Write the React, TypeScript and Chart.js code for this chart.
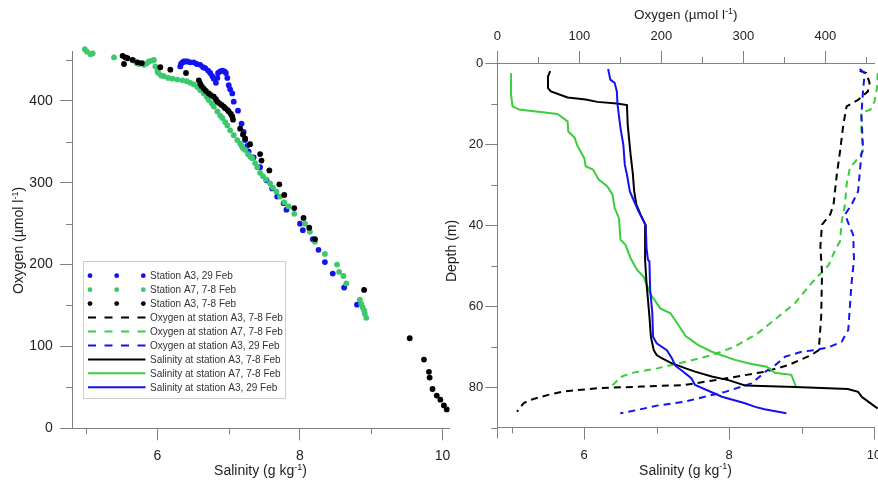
import React, { useEffect, useRef } from "react";
import { Chart, registerables } from "chart.js";

Chart.register(...registerables);

const FONT = '"Liberation Sans", Arial, Helvetica, sans-serif';
const AXIS = "#808080";
const TEXT = "#222222";
const BLUE = "#1212f2";
const GREEN_PT = "#3cc86c";
const GREEN_LN = "#3ccc3c";
const BLACK = "#000000";

// ---------- Left panel: oxygen vs salinity scatter ----------
const ptA3FebSal = [6.32, 6.33, 6.35, 6.37, 6.39, 6.42, 6.46, 6.51, 6.55, 6.6, 6.64, 6.67, 6.71, 6.74, 6.77, 6.79, 6.82, 6.84, 6.85, 6.88, 6.91, 6.94, 6.96, 6.98, 7.0, 7.02, 7.05, 7.07, 7.13, 7.18, 7.21, 7.23, 7.26, 7.28, 7.35, 7.44, 7.53, 7.61, 7.68, 7.77, 7.81, 8.0, 8.04, 8.18, 8.26, 8.35, 8.46, 8.62, 8.8];
const ptA3FebOxy = [442, 445, 447, 448, 448, 448, 447, 447, 445, 444, 441, 440, 437, 434, 430, 427, 422, 428, 434, 436, 437, 436, 434, 428, 419, 414, 409, 399, 388, 372, 362, 352, 345, 338, 331, 319, 303, 293, 283, 275, 267, 250, 242, 231, 218, 203, 189, 172, 151];

const ptA7Sal = [4.98, 5.01, 5.06, 5.09, 5.39, 5.67, 5.71, 5.74, 5.81, 5.85, 5.88, 5.92, 5.95, 5.97, 6.0, 6.01, 6.05, 6.09, 6.15, 6.21, 6.28, 6.35, 6.41, 6.46, 6.51, 6.56, 6.6, 6.65, 6.69, 6.72, 6.76, 6.79, 6.84, 6.88, 6.91, 6.95, 6.98, 7.02, 7.07, 7.12, 7.16, 7.18, 7.2, 7.23, 7.27, 7.3, 7.33, 7.37, 7.4, 7.44, 7.48, 7.52, 7.58, 7.62, 7.67, 7.72, 7.78, 7.84, 7.92, 8.07, 8.14, 8.21, 8.35, 8.52, 8.55, 8.61, 8.65, 8.84, 8.86, 8.88, 8.9, 8.91, 8.93];
const ptA7Oxy = [463, 460, 457, 458, 453, 449, 446, 445, 444, 446, 448, 449, 450, 442, 436, 434, 431, 430, 428, 427, 426, 425, 424, 422, 420, 417, 413, 409, 405, 401, 397, 393, 387, 382, 379, 374, 370, 364, 358, 352, 348, 345, 342, 340, 335, 332, 330, 324, 319, 312, 308, 304, 299, 294, 289, 283, 276, 271, 262, 250, 240, 228, 213, 200, 191, 186, 177, 157, 152, 148, 144, 140, 135];

const ptA3EarlySal = [5.51, 5.55, 5.53, 5.58, 5.65, 5.72, 5.78, 6.04, 6.18, 6.4, 6.58, 6.6, 6.62, 6.65, 6.68, 6.72, 6.75, 6.79, 6.82, 6.84, 6.87, 6.9, 6.93, 6.95, 6.98, 7.0, 7.03, 7.05, 7.06, 7.16, 7.2, 7.23, 7.3, 7.44, 7.46, 7.57, 7.71, 7.78, 7.92, 8.05, 8.13, 8.21, 8.9, 9.54, 9.74, 9.81, 9.82, 9.86, 9.92, 9.97, 10.02, 10.06];
const ptA3EarlyOxy = [455, 453, 445, 452, 450, 447, 446, 441, 438, 434, 425, 421, 418, 415, 412, 409, 407, 405, 402, 399, 397, 395, 393, 391, 389, 387, 384, 381, 377, 366, 359, 354, 347, 335, 327, 315, 298, 285, 269, 257, 245, 231, 169, 110, 84, 69, 62, 48, 40, 35, 28, 23];

// ---------- Right panel: profiles vs depth ----------
const salA3EarlyDepth = [2.0, 3.3, 6.2, 7.0, 8.5, 9.0, 9.6, 10.0, 10.4, 15.2, 22.6, 27.2, 31.7, 35.0, 37.5, 40.1, 48.6, 54.4, 62.6, 67.6, 70.9, 72.1, 72.9, 74.0, 75.4, 76.2, 77.4, 78.3, 79.1, 79.6, 80.0, 80.5, 81.2, 82.4, 83.6, 85.3];
const salA3EarlyValue = [5.53, 5.5, 5.5, 5.54, 5.77, 6.02, 6.18, 6.45, 6.59, 6.6, 6.64, 6.67, 6.69, 6.72, 6.78, 6.85, 6.84, 6.86, 6.9, 6.92, 6.96, 7.0, 7.07, 7.19, 7.4, 7.53, 7.76, 7.99, 8.13, 8.22, 8.91, 9.64, 9.78, 9.83, 9.92, 10.05];

const salA3FebDepth = [1.5, 4.1, 4.9, 7.0, 10.3, 16.0, 20.2, 25.1, 27.6, 31.7, 34.2, 36.6, 39.1, 40.3, 45.7, 48.6, 49.0, 56.0, 61.8, 67.6, 69.2, 70.9, 72.9, 74.8, 76.0, 77.0, 77.9, 79.5, 81.6, 82.4, 84.0, 84.9, 85.5, 86.5];
const salA3FebValue = [6.33, 6.36, 6.42, 6.45, 6.46, 6.5, 6.54, 6.56, 6.59, 6.63, 6.69, 6.75, 6.82, 6.85, 6.86, 6.88, 6.9, 6.91, 6.94, 6.95, 7.0, 7.14, 7.21, 7.26, 7.35, 7.42, 7.48, 7.53, 7.8, 7.9, 8.22, 8.36, 8.49, 8.79];

const salA7Depth = [2.5, 7.8, 10.7, 11.5, 12.6, 14.4, 16.9, 18.5, 20.2, 23.5, 25.5, 26.3, 28.8, 30.5, 32.5, 35.8, 38.3, 43.6, 44.9, 48.2, 51.1, 52.8, 56.9, 60.6, 61.8, 64.7, 67.4, 69.6, 71.3, 73.3, 74.3, 75.0, 76.5, 77.0, 80.3];
const salA7Value = [4.99, 4.99, 5.01, 5.1, 5.63, 5.77, 5.78, 5.87, 5.9, 6.0, 6.02, 6.12, 6.2, 6.32, 6.39, 6.42, 6.48, 6.5, 6.57, 6.64, 6.73, 6.82, 6.91, 7.05, 7.19, 7.3, 7.4, 7.57, 7.76, 8.08, 8.31, 8.52, 8.63, 8.86, 8.93];

const oxyA3EarlyDepth = [1.9, 2.5, 4.9, 7.0, 9.1, 10.7, 15.2, 21.8, 27.6, 35.0, 37.4, 39.9, 45.3, 51.9, 62.6, 70.9, 72.1, 74.6, 76.2, 77.9, 78.7, 79.5, 79.9, 80.3, 81.1, 82.0, 83.2, 84.0, 86.1];
const oxyA3EarlyValue = [442, 450, 454, 452, 440, 426, 422, 418, 414, 410, 406, 396, 394, 396, 395, 392, 383, 355, 327, 278, 253, 229, 175, 122, 81, 61, 40, 32, 24];

const oxyA7Depth = [2.5, 6.2, 9.5, 11.5, 12.3, 16.9, 21.8, 23.5, 25.9, 30.0, 35.0, 39.1, 44.0, 46.2, 49.9, 54.4, 59.3, 62.6, 66.7, 70.0, 72.1, 73.8, 75.4, 76.6, 77.6, 79.3, 79.9];
const oxyA7Value = [464, 463, 460, 455, 444, 444, 446, 440, 430, 426, 424, 420, 418, 412, 404, 383, 363, 343, 318, 290, 262, 229, 195, 162, 150, 142, 136];

const oxyA3FebDepth = [1.5, 2.5, 7.0, 12.8, 21.0, 22.6, 31.7, 35.0, 37.4, 39.5, 42.4, 48.6, 54.4, 60.2, 65.9, 68.8, 70.2, 70.9, 71.3, 72.5, 74.6, 76.2, 79.1, 81.2, 82.4, 83.6, 84.6, 85.7, 86.5];
const oxyA3FebValue = [442, 448, 446, 444, 446, 444, 440, 432, 424, 428, 434, 435, 432, 430, 428, 420, 404, 387, 371, 351, 339, 327, 310, 278, 253, 229, 195, 170, 150];

// ---------- Axis ticks ----------
const leftSalMinor = [5, 7, 9];
const leftOxyMinor = [50, 150, 250, 350, 450];
const rightOxyMinor = [50, 150, 250, 350, 450];
const rightSalMinor = [5, 7, 9];
const depthMinor = [10, 30, 50, 70, 90];

const legendLabels = [
  "Station A3, 29 Feb",
  "Station A7, 7-8 Feb",
  "Station A3, 7-8 Feb",
  "Oxygen at station A3, 7-8 Feb",
  "Oxygen at station A7, 7-8 Feb",
  "Oxygen at station A3, 29 Feb",
  "Salinity at station A3, 7-8 Feb",
  "Salinity at station A7, 7-8 Feb",
  "Salinity at station A3, 29 Feb",
];
const legendKinds = ["dots", "dots", "dots", "dash", "dash", "dash", "solid", "solid", "solid"];
const legendColors = [BLUE, GREEN_PT, BLACK, BLACK, GREEN_LN, BLUE, BLACK, GREEN_LN, BLUE];

const pts = (xs: number[], ys: number[]) => xs.map((x, i) => ({ x, y: ys[i] }));

function drawSupTitle(ctx: CanvasRenderingContext2D, x: number, y: number, base: string, sup: string, tail: string, size: number, rotate: boolean) {
  ctx.save();
  ctx.translate(x, y);
  if (rotate) ctx.rotate(-Math.PI / 2);
  const f1 = `${size}px ${FONT}`;
  const f2 = `${Math.round(size * 0.64)}px ${FONT}`;
  ctx.font = f1;
  const w1 = ctx.measureText(base).width;
  const w3 = ctx.measureText(tail).width;
  ctx.font = f2;
  const w2 = ctx.measureText(sup).width;
  let cx = -(w1 + w2 + w3) / 2;
  ctx.textBaseline = "middle";
  ctx.textAlign = "left";
  ctx.fillStyle = TEXT;
  ctx.font = f1;
  ctx.fillText(base, cx, 0);
  cx += w1;
  ctx.font = f2;
  ctx.fillText(sup, cx, -size * 0.32);
  cx += w2;
  ctx.font = f1;
  ctx.fillText(tail, cx, 0);
  ctx.restore();
}

function drawMinor(chart: any, id: string, values: number[], len: number) {
  const s = chart.scales[id];
  const a = chart.chartArea;
  const ctx = chart.ctx as CanvasRenderingContext2D;
  ctx.save();
  ctx.strokeStyle = AXIS;
  ctx.lineWidth = 1;
  ctx.beginPath();
  values.forEach((v) => {
    const p = Math.round(s.getPixelForValue(v)) + 0.5;
    if (s.position === "left") {
      ctx.moveTo(a.left - len, p);
      ctx.lineTo(a.left, p);
    } else if (s.position === "bottom") {
      ctx.moveTo(p, a.bottom);
      ctx.lineTo(p, a.bottom + len);
    } else if (s.position === "top") {
      ctx.moveTo(p, a.top - len);
      ctx.lineTo(p, a.top);
    }
  });
  ctx.stroke();
  ctx.restore();
}

const leftPlugin = {
  id: "leftDecor",
  afterDraw(chart: any) {
    const ctx = chart.ctx as CanvasRenderingContext2D;
    drawMinor(chart, "x", leftSalMinor, 6);
    drawMinor(chart, "y", leftOxyMinor, 6);
    drawSupTitle(ctx, 19.5, 240.5, "Oxygen (µmol l", "-1", ")", 14, true);
    drawSupTitle(ctx, 260.5, 471.5, "Salinity (g kg", "-1", ")", 14, false);
    // legend
    const bx = 83.5, by = 261.5, bw = 202, bh = 137;
    ctx.save();
    ctx.fillStyle = "#ffffff";
    ctx.fillRect(bx, by, bw, bh);
    ctx.strokeStyle = "#cccccc";
    ctx.lineWidth = 1;
    ctx.strokeRect(bx, by, bw, bh);
    legendLabels.forEach((lab, i) => {
      const yy = 275.7 + i * 13.95;
      const kind = legendKinds[i];
      const col = legendColors[i];
      if (kind === "dots") {
        ctx.fillStyle = col;
        [90, 116.7, 143.3].forEach((dx) => {
          ctx.beginPath();
          ctx.arc(dx, yy, 2.4, 0, Math.PI * 2);
          ctx.fill();
        });
      } else {
        ctx.strokeStyle = col;
        ctx.lineWidth = 2;
        ctx.setLineDash(kind === "dash" ? [8, 8.5] : []);
        ctx.beginPath();
        ctx.moveTo(88, yy);
        ctx.lineTo(145.5, yy);
        ctx.stroke();
        ctx.setLineDash([]);
      }
      ctx.fillStyle = "#333333";
      ctx.font = `10px ${FONT}`;
      ctx.textBaseline = "middle";
      ctx.textAlign = "left";
      ctx.fillText(lab, 150, yy + 0.5);
    });
    ctx.restore();
  },
};

const rightPlugin = {
  id: "rightDecor",
  afterDraw(chart: any) {
    const ctx = chart.ctx as CanvasRenderingContext2D;
    const a = chart.chartArea;
    drawMinor(chart, "xTop", rightOxyMinor, 6);
    drawMinor(chart, "xBot", rightSalMinor, 6);
    drawMinor(chart, "y", depthMinor, 6);
    ctx.save();
    ctx.strokeStyle = AXIS;
    ctx.lineWidth = 1;
    ctx.beginPath();
    const lx = Math.round(a.left) + 0.5;
    ctx.moveTo(lx, a.bottom);
    ctx.lineTo(lx, a.bottom + 11);
    ctx.stroke();
    ctx.restore();
    drawSupTitle(ctx, 685.8, 15.5, "Oxygen (µmol l", "-1", ")", 13.5, false);
    drawSupTitle(ctx, 685.5, 471, "Salinity (g kg", "-1", ")", 14, false);
    drawSupTitle(ctx, 451.7, 251, "Depth (m)", "", "", 14, true);
  },
};

const tickFont = (size: number) => ({ family: FONT, size });

function fixScale(dim: { width?: number; height?: number }) {
  return (s: any) => {
    if (dim.width !== undefined) s.width = dim.width;
    if (dim.height !== undefined) s.height = dim.height;
    s.paddingLeft = 0;
    s.paddingRight = 0;
    s.paddingTop = 0;
    s.paddingBottom = 0;
  };
}

export default function App() {
  const leftRef = useRef<HTMLCanvasElement | null>(null);
  const rightRef = useRef<HTMLCanvasElement | null>(null);

  useEffect(() => {
    const scatterDs = (label: string, xs: number[], ys: number[], color: string) => ({
      label,
      data: pts(xs, ys),
      backgroundColor: color,
      borderColor: color,
      borderWidth: 0,
      pointRadius: 2.9,
      pointHoverRadius: 2.9,
      clip: false,
    });
    const left = new Chart(leftRef.current as HTMLCanvasElement, {
      type: "scatter",
      data: {
        datasets: [
          scatterDs(legendLabels[2], ptA3EarlySal, ptA3EarlyOxy, BLACK),
          scatterDs(legendLabels[1], ptA7Sal, ptA7Oxy, GREEN_PT),
          scatterDs(legendLabels[0], ptA3FebSal, ptA3FebOxy, BLUE),
        ],
      },
      options: {
        animation: false,
        responsive: false,
        maintainAspectRatio: false,
        events: [],
        layout: { padding: { left: 0, top: 51.7, right: 428.4, bottom: 0 } },
        plugins: { legend: { display: false }, tooltip: { enabled: false } },
        scales: {
          x: {
            type: "linear",
            position: "bottom",
            min: 4.8,
            max: 10.1,
            ticks: { stepSize: 2, includeBounds: false, autoSkip: false, maxRotation: 0, color: TEXT, font: tickFont(14), padding: 7 },
            grid: { drawOnChartArea: false, drawTicks: true, tickLength: 12, tickColor: AXIS, color: AXIS },
            border: { display: true, color: AXIS, width: 1 },
            afterFit: fixScale({ height: 52.7 }),
          },
          y: {
            type: "linear",
            position: "left",
            min: 0,
            max: 460,
            ticks: { stepSize: 100, includeBounds: false, autoSkip: false, color: TEXT, font: tickFont(14), padding: 7.3 },
            grid: { drawOnChartArea: false, drawTicks: true, tickLength: 12, tickColor: AXIS, color: AXIS },
            border: { display: true, color: AXIS, width: 1 },
            afterFit: fixScale({ width: 72 }),
          },
        },
      } as any,
      plugins: [leftPlugin],
    });

    const lineDs = (label: string, xs: number[], ys: number[], color: string, axis: string, dashed: boolean) => ({
      label,
      data: pts(xs, ys),
      xAxisID: axis,
      yAxisID: "y",
      showLine: true,
      borderColor: color,
      backgroundColor: color,
      borderWidth: 2,
      borderDash: dashed ? [7, 5] : [],
      pointRadius: 0,
      pointHoverRadius: 0,
      tension: 0,
      fill: false,
      clip: false,
    });
    const right = new Chart(rightRef.current as HTMLCanvasElement, {
      type: "scatter",
      data: {
        datasets: [
          lineDs(legendLabels[8], salA3FebValue, salA3FebDepth, BLUE, "xBot", false),
          lineDs(legendLabels[6], salA3EarlyValue, salA3EarlyDepth, BLACK, "xBot", false),
          lineDs(legendLabels[7], salA7Value, salA7Depth, GREEN_LN, "xBot", false),
          lineDs(legendLabels[5], oxyA3FebValue, oxyA3FebDepth, BLUE, "xTop", true),
          lineDs(legendLabels[3], oxyA3EarlyValue, oxyA3EarlyDepth, BLACK, "xTop", true),
          lineDs(legendLabels[4], oxyA7Value, oxyA7Depth, GREEN_LN, "xTop", true),
        ],
      },
      options: {
        animation: false,
        responsive: false,
        maintainAspectRatio: false,
        events: [],
        layout: { padding: { left: 0, top: 0, right: 4, bottom: 0 } },
        plugins: { legend: { display: false }, tooltip: { enabled: false } },
        scales: {
          xTop: {
            type: "linear",
            position: "top",
            min: 0,
            max: 459.4,
            ticks: { stepSize: 100, includeBounds: false, autoSkip: false, maxRotation: 0, color: TEXT, font: tickFont(13), padding: 6.5 },
            grid: { drawOnChartArea: false, drawTicks: true, tickLength: 12, tickColor: AXIS, color: AXIS },
            border: { display: true, color: AXIS, width: 1 },
            afterFit: fixScale({ height: 63 }),
          },
          xBot: {
            type: "linear",
            position: "bottom",
            min: 4.8,
            max: 10,
            ticks: { stepSize: 2, includeBounds: false, autoSkip: false, maxRotation: 0, color: TEXT, font: tickFont(13), padding: 7.7 },
            grid: { drawOnChartArea: false, drawTicks: true, tickLength: 12, tickColor: AXIS, color: AXIS },
            border: { display: true, color: AXIS, width: 1 },
            afterFit: fixScale({ height: 53.5 }),
          },
          y: {
            type: "linear",
            position: "left",
            reverse: true,
            min: 0,
            max: 90,
            ticks: { stepSize: 20, includeBounds: false, autoSkip: false, color: TEXT, font: tickFont(13), padding: 2 },
            grid: { drawOnChartArea: false, drawTicks: true, tickLength: 12, tickColor: AXIS, color: AXIS },
            border: { display: true, color: AXIS, width: 1 },
            afterFit: fixScale({ width: 497.3 }),
          },
        },
      } as any,
      plugins: [rightPlugin],
    });

    return () => {
      left.destroy();
      right.destroy();
    };
  }, []);

  const cs: React.CSSProperties = { position: "absolute", left: 0, top: 0, width: 878, height: 481 };
  return (
    <div style={{ position: "fixed", left: 0, top: 0, width: 878, height: 481, background: "#ffffff", overflow: "hidden" }}>
      <canvas ref={leftRef} width={878} height={481} style={cs} />
      <canvas ref={rightRef} width={878} height={481} style={cs} />
    </div>
  );
}
